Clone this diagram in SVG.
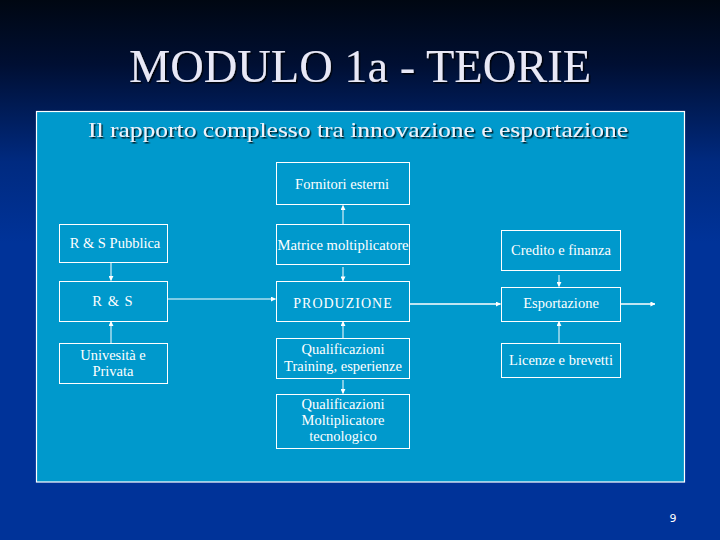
<svg xmlns="http://www.w3.org/2000/svg" width="720" height="540" viewBox="0 0 720 540">
<defs>
<linearGradient id="bg" x1="0" y1="0" x2="0" y2="1">
<stop offset="0" stop-color="#000712"/>
<stop offset="0.12" stop-color="#000f33"/>
<stop offset="0.3" stop-color="#002a80"/>
<stop offset="0.45" stop-color="#003399"/>
<stop offset="1" stop-color="#003399"/>
</linearGradient>
<marker id="ah" viewBox="0 0 6 6" refX="5.5" refY="3" markerWidth="5" markerHeight="5" markerUnits="userSpaceOnUse" orient="auto">
<path d="M0,0 L6,3 L0,6 Z" fill="#ffffff"/>
</marker>
<filter id="sh" x="-5%" y="-20%" width="110%" height="140%">
<feDropShadow dx="1.5" dy="1.5" stdDeviation="0.6" flood-color="#000000" flood-opacity="0.8"/>
</filter>
</defs>
<style>
.node rect{fill:none;stroke:#ffffff;stroke-width:1}
.node text{font-family:"Liberation Serif","Times New Roman",serif;font-size:14.5px;fill:#ffffff;text-anchor:middle}
.conn line{stroke:#ffffff;stroke-width:1;marker-end:url(#ah)}
.conn line.thick{stroke-width:1.6}
</style>
<rect x="0" y="0" width="720" height="540" fill="url(#bg)"/>
<text x="360" y="82" font-family="'Liberation Serif','Times New Roman',serif" font-size="46" fill="#e8e8f6" text-anchor="middle" textLength="462" lengthAdjust="spacingAndGlyphs" filter="url(#sh)">MODULO 1a - TEORIE</text>
<rect x="36.5" y="111.5" width="648" height="370.5" fill="#0099cc" stroke="#ffffff" stroke-width="1.2"/>
<text x="358" y="137" font-family="'Liberation Serif','Times New Roman',serif" font-size="22" fill="#eef2fa" text-anchor="middle" textLength="540" lengthAdjust="spacingAndGlyphs" filter="url(#sh)">Il rapporto complesso tra innovazione e esportazione</text>

<g class="conn" id="connectors">
<line x1="111" y1="262.5" x2="111" y2="280.5"/>
<line x1="111" y1="343" x2="111" y2="321.5"/>
<line x1="167.5" y1="299" x2="275.5" y2="299"/>
<line x1="343" y1="224.5" x2="343" y2="205.5"/>
<line x1="343" y1="267" x2="343" y2="281"/>
<line x1="343" y1="338.5" x2="343" y2="321.5"/>
<line x1="343" y1="380" x2="343" y2="393.5"/>
<line class="thick" x1="410" y1="304" x2="500.5" y2="304"/>
<line x1="559" y1="275" x2="559" y2="286.5"/>
<line x1="559" y1="343" x2="559" y2="321.5"/>
<line class="thick" x1="620.5" y1="304" x2="655" y2="304"/>
</g>

<g class="node" id="n-fornitori"><rect x="276.5" y="162.5" width="133" height="42"/><text x="342" y="189">Fornitori esterni</text></g>
<g class="node" id="n-rs-pubblica"><rect x="59.5" y="224.5" width="108" height="38"/><text x="115" y="248">R &amp; S Pubblica</text></g>
<g class="node" id="n-matrice"><rect x="276.5" y="224.5" width="133" height="40"/><text x="343" y="250" textLength="131" lengthAdjust="spacingAndGlyphs">Matrice moltiplicatore</text></g>
<g class="node" id="n-rs"><rect x="59.5" y="281.5" width="108" height="40"/><text x="113" y="306" letter-spacing="1">R &amp; S</text></g>
<g class="node" id="n-produzione"><rect x="276.5" y="281.5" width="133" height="40"/><text x="343" y="308" letter-spacing="1" style="font-size:14px">PRODUZIONE</text></g>
<g class="node" id="n-universita"><rect x="59.5" y="343.5" width="108" height="40"/><text x="113" y="360">Univesità e</text><text x="113" y="376">Privata</text></g>
<g class="node" id="n-qual-training"><rect x="276.5" y="338.5" width="133" height="40"/><text x="343" y="354">Qualificazioni</text><text x="343" y="371">Training, esperienze</text></g>
<g class="node" id="n-qual-molt"><rect x="276.5" y="394.5" width="133" height="54"/><text x="343" y="409">Qualificazioni</text><text x="343" y="425">Moltiplicatore</text><text x="343" y="441">tecnologico</text></g>
<g class="node" id="n-credito"><rect x="501.5" y="230.5" width="119" height="40"/><text x="561" y="255">Credito e finanza</text></g>
<g class="node" id="n-esportazione"><rect x="501.5" y="287.5" width="119" height="34"/><text x="561" y="308">Esportazione</text></g>
<g class="node" id="n-licenze"><rect x="501.5" y="343.5" width="119" height="34"/><text x="561" y="365">Licenze e brevetti</text></g>

<text x="673" y="522" font-family="'DejaVu Sans',sans-serif" font-size="11" fill="#ffffff" text-anchor="middle">9</text>
</svg>
